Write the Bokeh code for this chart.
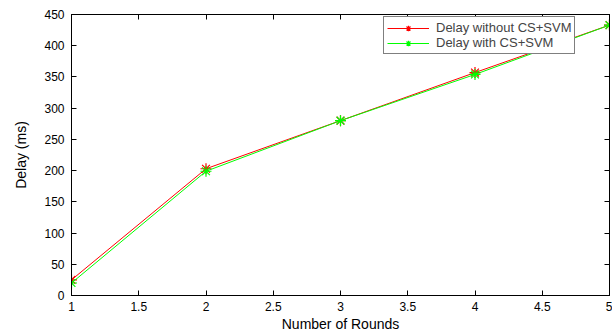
from bokeh.plotting import figure
from bokeh.models import LinearAxis, FixedTicker, Legend, LegendItem, Range1d
from bokeh.embed import file_html
from bokeh.resources import INLINE

rounds = [1, 2, 3, 4, 5]
delay_without = [25, 203, 280, 357, 433]
delay_with = [20, 199, 280, 354, 433]
x_ticks = [1, 1.5, 2, 2.5, 3, 3.5, 4, 4.5, 5]
x_tick_labels = ["1", "1.5", "2", "2.5", "3", "3.5", "4", "4.5", "5"]
y_ticks = [0, 50, 100, 150, 200, 250, 300, 350, 400, 450]

FONT = "Liberation Sans"

p = figure(width=612, height=334, output_backend="svg", toolbar_location=None,
           x_range=Range1d(1, 5), y_range=Range1d(0, 450),
           min_border_left=71, min_border_right=3, min_border_top=14, min_border_bottom=38)
p.grid.visible = False
p.outline_line_color = "black"
p.outline_line_width = 1
p.background_fill_color = "white"
p.border_fill_color = "white"

def style_axis(ax, labels=True):
    ax.major_tick_in = 5
    ax.major_tick_out = 0
    ax.minor_tick_line_color = None
    ax.axis_line_color = "black"
    ax.major_tick_line_color = "black"
    ax.major_label_text_font = FONT
    ax.major_label_text_font_size = "12px" if labels else "1px"
    ax.major_label_text_color = "black" if labels else None
    ax.axis_label_text_font = FONT
    ax.axis_label_text_font_size = "14px"
    ax.axis_label_text_font_style = "normal"
    ax.axis_label_text_color = "black"
    ax.major_label_standoff = 6 if labels else 0

p.xaxis.ticker = FixedTicker(ticks=x_ticks)
p.xaxis.major_label_overrides = dict(zip(x_ticks, x_tick_labels))
p.yaxis.ticker = FixedTicker(ticks=y_ticks)
p.xaxis.axis_label = "Number of Rounds"
p.yaxis.axis_label = "Delay (ms)"
style_axis(p.xaxis[0])
style_axis(p.yaxis[0])
p.xaxis.major_label_standoff = 6
p.xaxis.axis_label_standoff = 2
p.yaxis.major_label_standoff = 7
p.yaxis.axis_label_standoff = 12

top = LinearAxis(ticker=FixedTicker(ticks=x_ticks))
style_axis(top, labels=False)
p.add_layout(top, "above")
right = LinearAxis(ticker=FixedTicker(ticks=y_ticks))
style_axis(right, labels=False)
p.add_layout(right, "right")

l1 = p.line(rounds, delay_without, line_color="#ff0000", line_width=1)
m1 = p.scatter(rounds, delay_without, marker="asterisk", size=11, line_color="#ff0000", line_width=1.2)
l2 = p.line(rounds, delay_with, line_color="#00ff00", line_width=1)
m2 = p.scatter(rounds, delay_with, marker="asterisk", size=11, line_color="#00ff00", line_width=1.2)

legend = Legend(items=[LegendItem(label="Delay without CS+SVM", renderers=[l1, m1]),
                       LegendItem(label="Delay with CS+SVM", renderers=[l2, m2])],
                location=(312, 241))
legend.label_text_font = FONT
legend.label_text_font_size = "13px"
legend.label_height = 14
legend.glyph_height = 14
legend.glyph_width = 42
legend.label_standoff = 7
legend.spacing = 0
legend.padding = 3
legend.margin = 0
legend.border_line_color = "black"
legend.border_line_width = 1
legend.background_fill_alpha = 1
p.add_layout(legend)

open("out.html", "w").write(file_html(p, INLINE))
